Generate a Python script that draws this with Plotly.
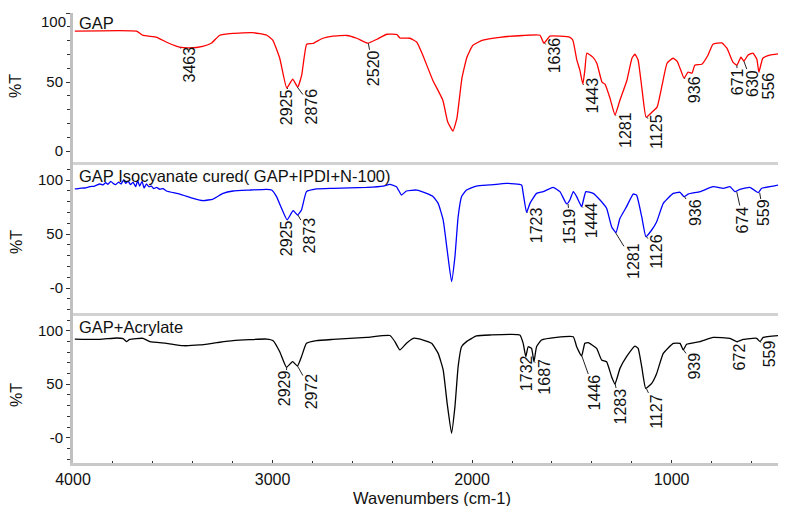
import plotly.graph_objects as go

# ---------------- data (wavenumber cm-1, %T) ----------------
gap_wn = [3991, 3681, 3651, 3580, 3530, 3465, 3415, 3350, 3305, 3265, 3200, 3099, 3029, 2999, 2964,
          2929, 2899, 2874, 2854, 2829, 2799, 2748, 2698, 2628, 2578, 2523, 2477, 2427, 2377, 2362,
          2312, 2277, 2247, 2197, 2147, 2122, 2096, 2076, 2051, 2026, 1996, 1946, 1861, 1746, 1660,
          1640, 1610, 1510, 1495, 1475, 1460, 1445, 1435, 1425, 1395, 1375, 1349, 1334, 1309, 1284,
          1259, 1224, 1199, 1184, 1168, 1148, 1128, 1098, 1073, 1048, 1023, 993, 973, 958, 938,
          918, 898, 884, 849, 818, 793, 748, 723, 693, 673, 653, 638, 618, 593, 573, 563, 543, 508, 427]
gap_t = [86.8, 86.8, 83.9, 82.4, 78.8, 75.2, 74.7, 75.9, 78.3, 83.9, 85.3, 85.8, 83.9, 80.3, 67.2,
         45.6, 52.1, 46.3, 55.0, 77.4, 77.9, 81.7, 83.2, 83.7, 81.7, 78.1, 81.0, 84.6, 84.4, 81.9,
         81.7, 78.8, 69.4, 51.3, 36.9, 21.0, 14.5, 23.9, 52.8, 68.0, 76.6, 80.3, 82.4, 83.7, 83.9,
         78.1, 83.2, 82.4, 80.3, 65.8, 58.6, 48.4, 58.6, 70.9, 68.0, 63.6, 49.9, 48.4, 38.3, 26.0,
         36.9, 51.3, 67.2, 70.1, 65.8, 44.1, 24.6, 28.2, 31.8, 47.7, 63.6, 67.2, 65.1, 60.0, 52.8,
         57.1, 56.4, 62.2, 62.9, 69.4, 77.4, 78.3, 74.5, 64.4, 62.2, 68.0, 65.1, 69.4, 70.9, 66.5,
         57.1, 67.2, 69.4, 71.1]

iso_wn = [3991, 3966, 3941, 3916, 3891, 3866, 3850, 3836, 3825, 3811, 3799, 3786, 3772, 3759, 3746,
          3736, 3724, 3712, 3699, 3686, 3676, 3666, 3654, 3644, 3632, 3620, 3607, 3595, 3582, 3565,
          3549, 3532, 3465, 3398, 3348, 3298, 3248, 3198, 3114, 3030, 3005, 2980, 2955, 2927, 2897,
          2875, 2855, 2830, 2780, 2697, 2529, 2445, 2412, 2379, 2354, 2329, 2278, 2228, 2195, 2170,
          2145, 2125, 2103, 2086, 2070, 2053, 2028, 1978, 1911, 1827, 1752, 1744, 1727, 1710, 1677,
          1644, 1594, 1560, 1526, 1510, 1493, 1476, 1451, 1430, 1393, 1359, 1326, 1301, 1279, 1259,
          1226, 1193, 1176, 1150, 1129, 1100, 1075, 1042, 992, 958, 938, 917, 858, 792, 741,
          708, 683, 658, 608, 566, 549, 491, 432]
iso_t = [91.7, 92.3, 92.6, 93.8, 94.4, 96.3, 95.4, 97.5, 96.0, 98.8, 96.9, 95.7, 98.1, 96.3, 100.0,
         96.9, 99.0, 95.7, 98.1, 93.8, 99.4, 94.4, 98.8, 92.6, 96.3, 93.8, 94.4, 92.0, 93.2, 91.4,
         92.0, 89.8, 87.0, 83.0, 80.9, 82.4, 87.6, 89.8, 90.7, 91.4, 90.7, 84.6, 73.8, 63.0, 71.6,
         67.6, 72.2, 89.2, 91.7, 92.3, 93.2, 94.4, 96.0, 93.8, 86.1, 89.8, 90.7, 87.6, 84.6, 78.4,
         63.0, 35.2, 5.9, 29.0, 66.0, 84.6, 90.7, 94.4, 95.4, 96.9, 95.4, 87.6, 70.0, 78.4, 87.6,
         89.2, 93.2, 89.2, 77.8, 81.5, 89.2, 84.6, 75.3, 89.2, 87.6, 81.5, 73.8, 56.8, 51.2, 64.5,
         75.3, 87.0, 86.1, 66.0, 47.5, 53.7, 61.4, 78.4, 87.6, 88.6, 84.6, 87.0, 89.2, 93.8, 92.3,
         93.8, 89.2, 91.4, 93.2, 88.3, 92.3, 94.4, 96.3]

acr_wn = [3991, 3866, 3782, 3749, 3732, 3716, 3649, 3615, 3532, 3449, 3365, 3281, 3198, 3030, 2997,
          2964, 2930, 2900, 2875, 2855, 2830, 2780, 2697, 2529, 2412, 2387, 2362, 2329, 2295, 2245,
          2203, 2170, 2145, 2125, 2103, 2086, 2070, 2053, 2028, 1978, 1911, 1761, 1744, 1731, 1719,
          1702, 1690, 1677, 1652, 1577, 1493, 1476, 1451, 1435, 1418, 1376, 1351, 1326, 1301, 1284,
          1259, 1226, 1184, 1168, 1150, 1130, 1100, 1075, 1042, 992, 958, 942, 925, 858, 792,
          708, 674, 641, 574, 557, 541, 432]
acr_t = [92.2, 91.9, 93.2, 92.6, 89.8, 91.9, 92.9, 89.8, 88.2, 86.0, 86.7, 88.8, 90.7, 92.2, 90.7,
         80.4, 65.8, 71.1, 67.0, 75.7, 88.2, 90.7, 91.9, 93.8, 95.5, 89.8, 82.0, 88.2, 92.9, 91.3,
         88.2, 78.8, 63.3, 32.1, 4.1, 29.0, 66.4, 85.0, 89.8, 95.1, 96.0, 96.0, 88.2, 75.7, 85.0,
         83.5, 71.0, 85.0, 91.3, 93.8, 94.4, 85.0, 76.3, 88.2, 88.8, 83.5, 72.6, 71.0, 57.0, 50.2,
         64.8, 75.7, 85.6, 83.5, 66.4, 46.1, 50.8, 60.1, 78.8, 88.2, 88.2, 82.0, 87.3, 89.8, 93.8,
         92.9, 89.8, 91.9, 92.9, 89.8, 93.8, 96.0]

panel_titles = ["GAP", "GAP Isocyanate cured( GAP+IPDI+N-100)", "GAP+Acrylate"]
x_tick_vals = [4000, 3000, 2000, 1000]
x_tick_text = ["4000", "3000", "2000", "1000"]

# peak labels: text, marked position (wn, %T)
gap_peaks = [("3463", 3463, 75.0), ("2925", 2925, 45.6), ("2876", 2876, 46.3), ("2520", 2520, 78.1),
             ("1636", 1636, 78.1), ("1443", 1443, 48.4), ("1281", 1281, 26.0), ("1125", 1125, 24.6),
             ("936", 936, 52.8), ("671", 673, 62.2), ("630", 638, 65.1), ("556", 559, 57.1)]
iso_peaks = [("2925", 2925, 63.0), ("2873", 2873, 67.6), ("1723", 1723, 70.0), ("1519", 1519, 77.8),
             ("1444", 1448, 75.3), ("1281", 1281, 51.2), ("1126", 1126, 47.5), ("936", 936, 84.6),
             ("674", 674, 89.2), ("559", 559, 88.3)]
acr_peaks = [("2929", 2929, 65.8), ("2972", 2875, 67.0), ("1732", 1732, 75.7), ("1687", 1687, 71.0),
             ("1446", 1450, 76.3), ("1283", 1283, 50.2), ("1127", 1127, 46.1), ("939", 940, 82.0),
             ("672", 672, 89.8), ("559", 557, 89.8)]

# label text centres (wn, %T) - placement only
gap_lbl_pos = [(3415, 62.5), (2929, 31.5), (2803, 32.2), (2497, 60.0), (1586, 69.1), (1395, 40.1),
               (1234, 15.2), (1074, 14.5), (888, 44.1), (672, 49.9), (598, 49.2), (513, 47.4)]
iso_lbl_pos = [(2929, 45.8), (2813, 48.6), (1676, 57.9), (1510, 57.0), (1400, 62.5), (1194, 25.0),
               (1074, 34.3), (883, 69.4), (643, 63.4), (542, 69.4)]
acr_lbl_pos = [(2939, 46.0), (2803, 43.2), (1724, 60.5), (1639, 57.2), (1385, 42.2), (1259, 29.2),
               (1074, 25.0), (883, 66.5), (658, 75.9), (508, 78.7)]

# ---------------- figure ----------------
FONT = "Arial, Liberation Sans, sans-serif"
X_RANGE = [4000, 427]
# page body has an 8px margin: the figure is sized to fill the rest of the window
W, H = 778, 498
ML, MR, MT, MB = 65, 0, 5, 43

fig = go.Figure()
series = [(gap_wn, gap_t, "#ff0000", "x", "y"),
          (iso_wn, iso_t, "#0000ff", "x2", "y2"),
          (acr_wn, acr_t, "#000000", "x3", "y3")]
for wn, t, col, xa, ya in series:
    fig.add_trace(go.Scatter(x=wn, y=t, mode="lines", xaxis=xa, yaxis=ya,
                             line=dict(color=col, width=1.3, shape="spline", smoothing=0.4),
                             showlegend=False, hoverinfo="skip"))

domains = [[0.6689, 1.0], [0.3333, 0.6689], [0.0, 0.3333]]
yranges = [[-7.97, 100], [-23.15, 116.67], [-23.64, 116.54]]
yticktexts = [["0", "50", ""], ["-0", "50", "100"], ["-0", "50", "100"]]

layout = dict(width=W, height=H, margin=dict(l=ML, r=MR, t=MT, b=MB, autoexpand=False),
              paper_bgcolor="white", plot_bgcolor="white",
              font=dict(family=FONT, color="#111111"), showlegend=False)

for i in range(3):
    sx = "" if i == 0 else str(i + 1)
    last = (i == 2)
    xa = dict(domain=[0, 1], anchor="y" + sx, range=X_RANGE, showgrid=False, zeroline=False,
              showline=True, linecolor="#d2d2d2" if not last else "#c8c8c8", linewidth=3,
              ticks="inside" if last else "", showticklabels=last, automargin=False)
    if last:
        xa.update(tickvals=x_tick_vals, ticktext=x_tick_text, ticklen=3, tickwidth=1,
                  tickcolor="#333333", tickfont=dict(size=16, color="#111111"),
                  minor=dict(dtick=200, tick0=0, ticks="inside", ticklen=2, tickcolor="#333333"))
    else:
        xa.update(matches="x3")
    ya = dict(domain=domains[i], anchor="x" + sx, range=yranges[i], showgrid=False, zeroline=False,
              showline=True, linecolor="#c0c0c0", linewidth=3, ticks="outside", ticklen=4,
              tickwidth=1, tickcolor="#333333", tickvals=[0, 50, 100], ticktext=yticktexts[i],
              tickfont=dict(size=15, color="#111111"), automargin=False,
              minor=dict(dtick=10, tick0=0, ticks="outside", ticklen=3, tickcolor="#333333"))
    layout["xaxis" + sx] = xa
    layout["yaxis" + sx] = ya

fig.update_layout(**layout)

annotations = []
for i, (peaks, lpos) in enumerate([(gap_peaks, gap_lbl_pos), (iso_peaks, iso_lbl_pos), (acr_peaks, acr_lbl_pos)]):
    sx = "" if i == 0 else str(i + 1)
    for (txt, px, py), (lx, ly) in zip(peaks, lpos):
        annotations.append(dict(x=px, y=py, xref="x" + sx, yref="y" + sx, text=txt, textangle=-90,
                                showarrow=True, arrowhead=0, arrowwidth=1, arrowcolor="#222222",
                                ax=lx, ay=ly, axref="x" + sx, ayref="y" + sx, standoff=0,
                                borderpad=0, font=dict(size=16, color="#111111")))

title_y = [0.9778, 0.6378, 0.3033]
for txt, ty in zip(panel_titles, title_y):
    annotations.append(dict(x=0.0056, y=ty, xref="paper", yref="paper", text=txt, showarrow=False,
                            xanchor="left", yanchor="middle", font=dict(size=16.5, color="#111111")))

for ty in [0.8378, 0.4911, 0.1511]:
    annotations.append(dict(x=-0.0800, y=ty, xref="paper", yref="paper", text="%T", textangle=-90,
                            showarrow=False, xanchor="center", yanchor="middle",
                            font=dict(size=16, color="#111111")))

annotations.append(dict(x=-0.007, y=0.982, xref="paper", yref="paper", text="100", showarrow=False,
                        xanchor="right", yanchor="middle", font=dict(size=15, color="#111111")))
annotations.append(dict(x=0.503, y=-0.0775, xref="paper", yref="paper", text="Wavenumbers (cm-1)",
                        showarrow=False, xanchor="center", yanchor="middle",
                        font=dict(size=16.5, color="#111111")))

fig.update_layout(annotations=annotations)
fig.write_html("out.html")
